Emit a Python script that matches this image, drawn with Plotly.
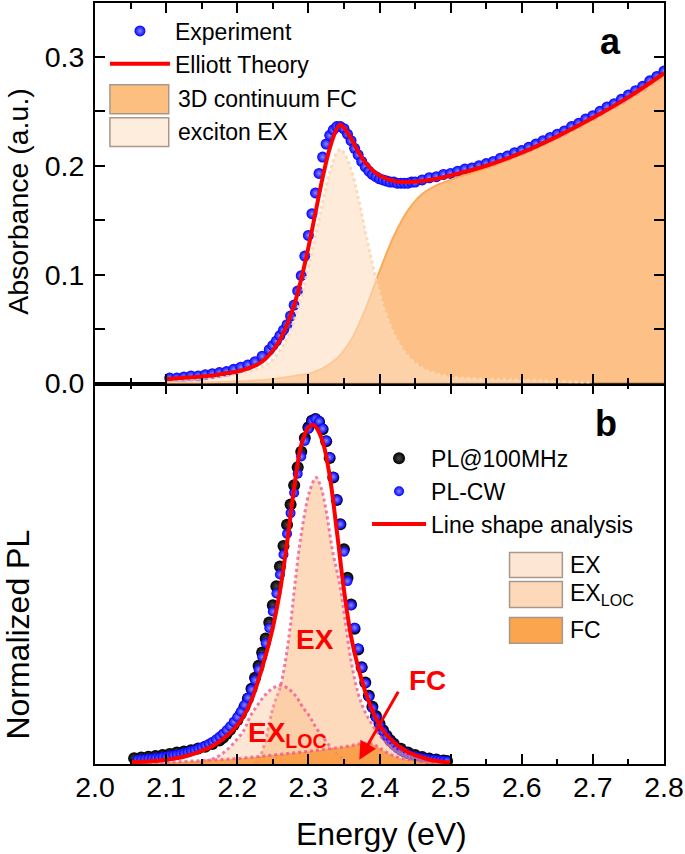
import plotly.graph_objects as go

FONT = "Liberation Sans, Arial, sans-serif"

# ---------------- Panel a : absorbance ----------------
exp_E = [2.105, 2.115, 2.125, 2.135, 2.145, 2.155, 2.165, 2.175, 2.185, 2.195, 2.205, 2.215, 2.225, 2.235, 2.245,
         2.250, 2.255, 2.260, 2.265, 2.270, 2.275, 2.280, 2.285, 2.290, 2.295, 2.300, 2.305, 2.310, 2.315, 2.320,
         2.325, 2.330, 2.335, 2.340, 2.345, 2.350, 2.355, 2.360, 2.365, 2.370, 2.375, 2.380, 2.385, 2.390, 2.395,
         2.400, 2.405, 2.410, 2.415, 2.420, 2.425, 2.430, 2.435, 2.440, 2.445, 2.450,
         2.46, 2.47, 2.48, 2.49, 2.50, 2.51, 2.52, 2.53, 2.54, 2.55, 2.56, 2.57, 2.58, 2.59, 2.60, 2.61, 2.62, 2.63,
         2.64, 2.65, 2.66, 2.67, 2.68, 2.69, 2.70, 2.71, 2.72, 2.73, 2.74, 2.75, 2.76, 2.77, 2.78, 2.79, 2.80]
exp_A = [0.005, 0.005, 0.006, 0.007, 0.007, 0.008, 0.009, 0.010, 0.011, 0.013, 0.015, 0.017, 0.020, 0.025, 0.031,
         0.035, 0.039, 0.044, 0.049, 0.054, 0.062, 0.072, 0.085, 0.099, 0.117, 0.136, 0.156, 0.175, 0.193, 0.208,
         0.220, 0.228, 0.233, 0.236, 0.236, 0.234, 0.229, 0.223, 0.216, 0.210, 0.204, 0.199, 0.195, 0.192, 0.190,
         0.188, 0.187, 0.186, 0.185, 0.185, 0.184, 0.184, 0.184, 0.184, 0.185, 0.185,
         0.187, 0.189, 0.190, 0.192, 0.193, 0.195, 0.197, 0.198, 0.200, 0.202, 0.204, 0.207, 0.209, 0.212, 0.214,
         0.217, 0.220, 0.223, 0.226, 0.229, 0.232, 0.236, 0.239, 0.243, 0.246, 0.250, 0.254, 0.257, 0.261, 0.265,
         0.269, 0.273, 0.278, 0.282, 0.287]

ell_E = [2.10, 2.12, 2.14, 2.16, 2.18, 2.20, 2.22, 2.23, 2.24, 2.25, 2.26, 2.27, 2.28, 2.29, 2.30, 2.31, 2.32,
         2.33, 2.34, 2.345, 2.35, 2.36, 2.37, 2.38, 2.39, 2.40, 2.42, 2.44, 2.46, 2.48, 2.50, 2.55, 2.60, 2.65,
         2.70, 2.75, 2.80]
ell_A = [0.004, 0.005, 0.006, 0.007, 0.009, 0.011, 0.015, 0.018, 0.023, 0.030, 0.040, 0.054, 0.072, 0.096, 0.125,
         0.157, 0.189, 0.216, 0.234, 0.2376, 0.235, 0.225, 0.213, 0.203, 0.196, 0.191, 0.186, 0.185, 0.186, 0.188,
         0.191, 0.200, 0.212, 0.227, 0.244, 0.263, 0.285]

fc_E = [2.10, 2.15, 2.20, 2.25, 2.28, 2.30, 2.32, 2.34, 2.36, 2.38, 2.40, 2.42, 2.44, 2.46, 2.48, 2.50, 2.55,
        2.60, 2.65, 2.70, 2.75, 2.80]
fc_A = [0.001, 0.001, 0.002, 0.004, 0.007, 0.009, 0.014, 0.023, 0.040, 0.068, 0.103, 0.135, 0.159, 0.174, 0.182,
        0.187, 0.198, 0.211, 0.226, 0.243, 0.262, 0.283]

ex_E = [2.10, 2.15, 2.20, 2.23, 2.25, 2.27, 2.28, 2.29, 2.30, 2.31, 2.32, 2.33, 2.34, 2.345, 2.35, 2.36, 2.37,
        2.38, 2.39, 2.40, 2.41, 2.42, 2.43, 2.44, 2.46, 2.48, 2.50, 2.55, 2.60, 2.65, 2.70]
ex_A = [0.003, 0.005, 0.009, 0.014, 0.022, 0.042, 0.058, 0.080, 0.106, 0.136, 0.166, 0.194, 0.212, 0.215, 0.212,
        0.197, 0.171, 0.140, 0.110, 0.083, 0.062, 0.046, 0.034, 0.025, 0.014, 0.009, 0.006, 0.004, 0.003, 0.002,
        0.001]

# ---------------- Panel b : photoluminescence ----------------
pl100_E = [2.055, 2.065, 2.075, 2.085, 2.095, 2.105, 2.115, 2.125, 2.135, 2.145, 2.155, 2.165, 2.175, 2.180, 2.185,
           2.190, 2.195, 2.200, 2.205, 2.210, 2.215, 2.220, 2.225, 2.230, 2.235, 2.240, 2.245, 2.250, 2.255, 2.260,
           2.265, 2.270, 2.275, 2.280, 2.285, 2.290, 2.295, 2.300, 2.305, 2.310, 2.315, 2.320, 2.325, 2.330, 2.335,
           2.340, 2.345, 2.350, 2.355, 2.360, 2.365, 2.370, 2.375, 2.380, 2.385, 2.390, 2.395, 2.400, 2.405, 2.410,
           2.415, 2.420, 2.430, 2.440, 2.450, 2.460, 2.470, 2.480, 2.490, 2.495]
pl100_I = [0.017, 0.019, 0.021, 0.023, 0.026, 0.029, 0.033, 0.036, 0.040, 0.045, 0.050, 0.058, 0.068, 0.076, 0.087,
           0.099, 0.113, 0.127, 0.145, 0.165, 0.190, 0.218, 0.250, 0.285, 0.323, 0.364, 0.410, 0.460, 0.515, 0.572,
           0.632, 0.693, 0.752, 0.808, 0.860, 0.905, 0.945, 0.976, 0.995, 1.000, 0.992, 0.970, 0.935, 0.887, 0.830,
           0.765, 0.695, 0.622, 0.540, 0.462, 0.392, 0.332, 0.280, 0.236, 0.198, 0.166, 0.139, 0.117, 0.098, 0.082,
           0.069, 0.059, 0.044, 0.033, 0.026, 0.020, 0.016, 0.013, 0.010, 0.009]

plcw_E = [2.060, 2.065, 2.070, 2.075, 2.080, 2.085, 2.090, 2.095, 2.100, 2.105, 2.110, 2.115, 2.120, 2.125, 2.130,
          2.135, 2.140, 2.145, 2.150, 2.155, 2.160, 2.165, 2.170, 2.175, 2.180, 2.185, 2.190, 2.195, 2.200, 2.205,
          2.210, 2.215, 2.220, 2.225, 2.230, 2.235, 2.240, 2.245, 2.250, 2.255, 2.260, 2.265, 2.270, 2.275, 2.280,
          2.285, 2.290, 2.295, 2.300, 2.305, 2.310, 2.315, 2.320, 2.325, 2.330, 2.335, 2.340, 2.345, 2.350, 2.355,
          2.360, 2.365, 2.370, 2.375, 2.380, 2.385, 2.390, 2.395, 2.400, 2.405, 2.410, 2.415, 2.420, 2.425, 2.430,
          2.435, 2.440, 2.445, 2.450, 2.455, 2.460, 2.465, 2.470, 2.475, 2.480, 2.485, 2.490, 2.495]
plcw_I = [0.012, 0.013, 0.014, 0.015, 0.016, 0.017, 0.018, 0.020, 0.021, 0.023, 0.025, 0.027, 0.029, 0.031, 0.034,
          0.037, 0.040, 0.044, 0.048, 0.053, 0.058, 0.064, 0.071, 0.079, 0.088, 0.098, 0.109, 0.122, 0.136, 0.152,
          0.171, 0.192, 0.216, 0.243, 0.274, 0.310, 0.350, 0.394, 0.442, 0.494, 0.549, 0.607, 0.667, 0.727, 0.786,
          0.841, 0.891, 0.936, 0.971, 0.993, 1.000, 0.993, 0.972, 0.937, 0.889, 0.832, 0.766, 0.695, 0.615, 0.530,
          0.460, 0.395, 0.335, 0.280, 0.234, 0.195, 0.162, 0.135, 0.112, 0.094, 0.078, 0.064, 0.054, 0.045, 0.038,
          0.033, 0.028, 0.024, 0.021, 0.019, 0.017, 0.015, 0.013, 0.012, 0.011, 0.010, 0.009, 0.008]

fit_E = [2.05, 2.07, 2.09, 2.11, 2.13, 2.15, 2.17, 2.19, 2.20, 2.21, 2.22, 2.23, 2.24, 2.25, 2.26, 2.27, 2.28,
         2.29, 2.30, 2.305, 2.31, 2.32, 2.33, 2.34, 2.35, 2.36, 2.37, 2.38, 2.39, 2.40, 2.41, 2.42, 2.43, 2.44,
         2.45, 2.46, 2.47, 2.48, 2.49, 2.50]
fit_I = [0.005, 0.007, 0.010, 0.015, 0.024, 0.038, 0.058, 0.090, 0.112, 0.142, 0.185, 0.245, 0.315, 0.395, 0.500,
         0.640, 0.800, 0.925, 0.975, 0.983, 0.978, 0.935, 0.835, 0.675, 0.505, 0.370, 0.280, 0.210, 0.155, 0.113,
         0.084, 0.063, 0.047, 0.035, 0.026, 0.019, 0.013, 0.009, 0.006, 0.004]

exb_E = [2.225, 2.232, 2.240, 2.246, 2.252, 2.260, 2.267, 2.274, 2.281, 2.290, 2.302, 2.311, 2.318, 2.325, 2.334,
         2.344, 2.351, 2.360, 2.370, 2.380, 2.395, 2.410, 2.425, 2.440, 2.460, 2.480, 2.500]
exb_I = [0.000, 0.021, 0.070, 0.127, 0.175, 0.220, 0.290, 0.390, 0.520, 0.667, 0.792, 0.830, 0.800, 0.734, 0.618,
         0.522, 0.426, 0.300, 0.205, 0.150, 0.098, 0.062, 0.040, 0.027, 0.016, 0.009, 0.005]

loc_E = [2.140, 2.155, 2.171, 2.185, 2.199, 2.210, 2.218, 2.230, 2.241, 2.252, 2.262, 2.272, 2.283, 2.292, 2.302,
         2.311, 2.320, 2.330, 2.339, 2.350, 2.360]
loc_I = [0.000, 0.008, 0.020, 0.040, 0.070, 0.100, 0.137, 0.175, 0.204, 0.222, 0.228, 0.218, 0.195, 0.165, 0.137,
         0.105, 0.079, 0.052, 0.031, 0.012, 0.000]

fcb_E = [2.05, 2.10, 2.15, 2.20, 2.25, 2.30, 2.35, 2.38, 2.39, 2.40, 2.413, 2.43, 2.46, 2.50]
fcb_I = [0.000, 0.005, 0.010, 0.016, 0.026, 0.037, 0.050, 0.060, 0.058, 0.047, 0.030, 0.017, 0.007, 0.000]

x_ticks = [2.0, 2.1, 2.2, 2.3, 2.4, 2.5, 2.6, 2.7, 2.8]
x_ticklabels = ["2.0", "2.1", "2.2", "2.3", "2.4", "2.5", "2.6", "2.7", "2.8"]
ya_ticks = [0.0, 0.1, 0.2, 0.3]
ya_ticklabels = ["0.0", "0.1", "0.2", "0.3"]

PINK = "rgba(240,80,140,0.75)"

fig = go.Figure()

# ----- panel a traces (x2, y2) -----
fig.add_trace(go.Scatter(
    x=exp_E, y=exp_A, mode="markers", name="Experiment", xaxis="x2", yaxis="y2", legend="legend",
    marker=dict(size=11, color="#0000ff", gradient=dict(type="radial", color="#8a8aff"), line=dict(width=0))))
fig.add_trace(go.Scatter(
    x=fc_E, y=fc_A, mode="lines", xaxis="x2", yaxis="y2", showlegend=False, fill="tozeroy",
    fillcolor="rgba(253,184,118,0.88)", line=dict(color="#fca95a", width=2, shape="spline")))
fig.add_trace(go.Scatter(
    x=ex_E, y=ex_A, mode="lines", xaxis="x2", yaxis="y2", showlegend=False, fill="tozeroy",
    fillcolor="rgba(253,222,192,0.6)", line=dict(color="rgba(252,215,180,0.9)", width=3, dash="dot",
                                                  shape="spline")))
fig.add_trace(go.Scatter(
    x=ell_E, y=ell_A, mode="lines", name="Elliott Theory", xaxis="x2", yaxis="y2", legend="legend",
    line=dict(color="#ff0000", width=4, shape="spline")))

# ----- panel b traces (x, y) -----
fig.add_trace(go.Scatter(
    x=pl100_E, y=pl100_I, mode="markers", name="PL@100MHz", legend="legend2",
    marker=dict(size=12, color="#000000", gradient=dict(type="radial", color="#4a4a4a"), line=dict(width=0))))
fig.add_trace(go.Scatter(
    x=plcw_E, y=plcw_I, mode="markers", name="PL-CW", legend="legend2",
    marker=dict(size=10, color="#0000ff", gradient=dict(type="radial", color="#8a8aff"), line=dict(width=0))))
fig.add_trace(go.Scatter(
    x=exb_E, y=exb_I, mode="lines", showlegend=False, fill="tozeroy",
    fillcolor="rgba(251,182,122,0.5)", line=dict(color=PINK, width=3, dash="dot", shape="spline")))
fig.add_trace(go.Scatter(
    x=loc_E, y=loc_I, mode="lines", showlegend=False, fill="tozeroy",
    fillcolor="rgba(251,190,140,0.38)", line=dict(color=PINK, width=3, dash="dot", shape="spline")))
fig.add_trace(go.Scatter(
    x=fcb_E, y=fcb_I, mode="lines", showlegend=False, fill="tozeroy",
    fillcolor="rgba(249,150,60,0.85)", line=dict(color=PINK, width=3, dash="dot", shape="spline")))
fig.add_trace(go.Scatter(
    x=fit_E, y=fit_I, mode="lines", name="Line shape analysis", legend="legend2",
    line=dict(color="#ff0000", width=4, shape="spline")))

axis_common = dict(showline=True, linewidth=2, linecolor="black", mirror="ticks", showgrid=False,
                   zeroline=False, ticks="inside", tickcolor="black", tickwidth=2)

fig.update_layout(
    width=685, height=854,
    margin=dict(l=95, r=19, t=1, b=90),
    paper_bgcolor="white", plot_bgcolor="white",
    font=dict(family=FONT, color="black"),
    xaxis=dict(domain=[0, 1], anchor="y", range=[2.0, 2.8], tickvals=x_ticks, ticktext=x_ticklabels,
               ticklen=10, tickfont=dict(size=28.5), ticklabelstandoff=-3, ticklabeloverflow="allow",
               minor=dict(dtick=0.05, tick0=2.0, ticklen=5, ticks="inside", tickcolor="black", tickwidth=2),
               **axis_common),
    yaxis=dict(domain=[0, 0.5], anchor="x", range=[0, 1.1026], showticklabels=False, ticks="",
               showline=True, linewidth=2, linecolor="black", mirror=True, showgrid=False, zeroline=False),
    xaxis2=dict(domain=[0, 1], anchor="y2", range=[2.0, 2.8], tickvals=x_ticks, showticklabels=False,
                ticklen=10,
                minor=dict(dtick=0.05, tick0=2.0, ticklen=6, ticks="inside", tickcolor="black", tickwidth=2),
                **axis_common),
    yaxis2=dict(domain=[0.5, 1], anchor="x2", range=[0, 0.3495], tickvals=ya_ticks, ticktext=ya_ticklabels,
                ticklen=10, tickfont=dict(size=28.5), ticklabelstandoff=3, ticklabeloverflow="allow",
                minor=dict(dtick=0.05, tick0=0, ticklen=10, ticks="inside", tickcolor="black", tickwidth=2),
                **axis_common),
    legend=dict(x=0.0175, y=0.9915, xanchor="left", yanchor="top", bgcolor="rgba(0,0,0,0)",
                font=dict(size=23, family=FONT), itemwidth=60, tracegroupgap=0),
    legend2=dict(x=(368 - 95) / 571, y=(764 - 436) / 763, xanchor="left", yanchor="top",
                 bgcolor="rgba(0,0,0,0)", font=dict(size=23, family=FONT), itemwidth=54, tracegroupgap=0),
)

def px2x(px):
    return (px - 95) / 571

def py2y(py):
    return (764 - py) / 763

shapes = []
annotations = []
# manual legend patches panel a
for (y0, y1, col, txt) in [(83, 112, "#fdbf80", "3D continuum FC"), (116, 145, "#feecdd", "exciton EX")]:
    shapes.append(dict(type="rect", xref="paper", yref="paper", x0=px2x(110), x1=px2x(169), y0=py2y(y1),
                       y1=py2y(y0), fillcolor=col, line=dict(color="#a8988a", width=1.5)))
    annotations.append(dict(xref="paper", yref="paper", x=px2x(176), y=py2y((y0 + y1) / 2), text=txt,
                            showarrow=False, xanchor="left", yanchor="middle", font=dict(size=23)))
# manual legend patches panel b
for (y0, y1, col, txt) in [(552, 577, "#fde6d3", "EX"), (581, 607, "#fdd9b9", "EX<sub>LOC</sub>"),
                           (617, 643, "#fba54e", "FC")]:
    shapes.append(dict(type="rect", xref="paper", yref="paper", x0=px2x(511), x1=px2x(564), y0=py2y(y1),
                       y1=py2y(y0), fillcolor=col, line=dict(color="#a8988a", width=1.5)))
    annotations.append(dict(xref="paper", yref="paper", x=px2x(570), y=py2y((y0 + y1) / 2), text=txt,
                            showarrow=False, xanchor="left", yanchor="middle", font=dict(size=23)))

# panel labels
annotations.append(dict(xref="paper", yref="paper", x=px2x(612), y=py2y(40), text="<b>a</b>", showarrow=False,
                        font=dict(size=36), xanchor="center", yanchor="middle"))
annotations.append(dict(xref="paper", yref="paper", x=px2x(608), y=py2y(423), text="<b>b</b>", showarrow=False,
                        font=dict(size=36), xanchor="center", yanchor="middle"))
# axis titles
annotations.append(dict(xref="paper", yref="paper", x=px2x(18), y=py2y(200), text="Absorbance (a.u.)",
                        textangle=-90, showarrow=False, font=dict(size=28.5), xanchor="center", yanchor="middle"))
annotations.append(dict(xref="paper", yref="paper", x=px2x(18), y=py2y(634), text="Normalized PL",
                        textangle=-90, showarrow=False, font=dict(size=32), xanchor="center", yanchor="middle"))
annotations.append(dict(xref="paper", yref="paper", x=px2x(383), y=py2y(834), text="Energy (eV)",
                        showarrow=False, font=dict(size=32), xanchor="center", yanchor="middle"))
# component labels in panel b
annotations.append(dict(xref="x", yref="y", x=2.31, y=0.36, text="<b>EX</b>", showarrow=False,
                        font=dict(size=28, color="#ff0000")))
annotations.append(dict(xref="x", yref="y", x=2.27, y=0.085, text="<b>EX<sub>LOC</sub></b>", showarrow=False,
                        font=dict(size=28, color="#ff0000")))
annotations.append(dict(xref="x", yref="y", x=2.467, y=0.243, text="<b>FC</b>", showarrow=False,
                        font=dict(size=28, color="#ff0000")))
annotations.append(dict(xref="x", yref="y", axref="x", ayref="y", x=2.3716, y=0.012, ax=2.4276, ay=0.214,
                        text="", showarrow=True, arrowhead=2, arrowsize=1.2, arrowwidth=3, arrowcolor="#ff0000"))

fig.update_layout(shapes=shapes, annotations=annotations)

fig.write_html("out.html", config={"displayModeBar": False},
               post_script="document.body.style.margin='0px';document.body.style.overflow='hidden';")
